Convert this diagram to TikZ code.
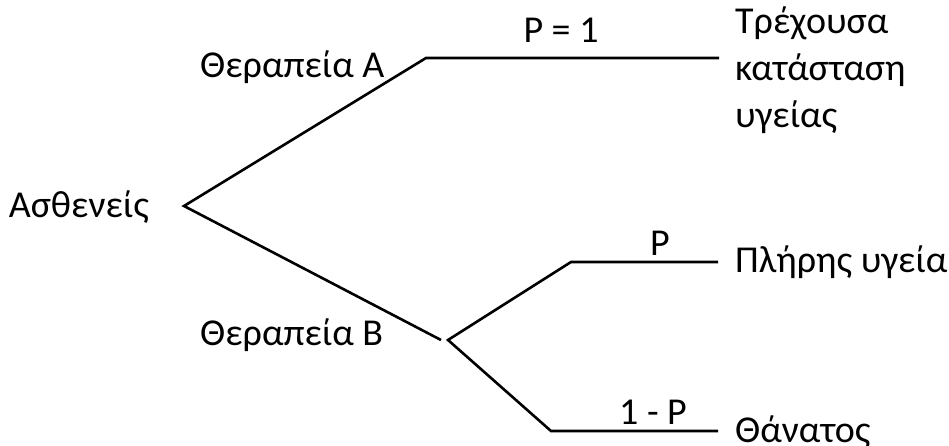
\documentclass[tikz,border=0pt]{standalone}
\usepackage{fontspec}
\setmainfont{Carlito}
\begin{document}
\begin{tikzpicture}[x=1pt,y=-1pt,
  branch/.style={line width=2.6pt,line join=miter},
  lbl/.style={inner sep=0pt,font=\fontsize{38}{47}\selectfont},
  outcome/.style={lbl,anchor=west,align=left}]
\useasboundingbox (0,0) rectangle (949,446);
% tree vertices
\coordinate (root) at (184,206);
\coordinate (aknee) at (426,58);
\coordinate (aend) at (719,58);
\coordinate (bend) at (441,340);
\coordinate (bsplit) at (448,340);
\coordinate (pknee) at (571,262);
\coordinate (pend) at (718,262);
\coordinate (qknee) at (551,431);
\coordinate (qend) at (718,431);
% branches
\draw[branch] (aend) -- (aknee) -- (root) -- (bend);
\draw[branch] (pend) -- (pknee) -- (bsplit) -- (qknee) -- (qend);
% labels
\node[lbl,anchor=east] (pat) at (149,207) {Ασθενείς};
\node[lbl,anchor=west] (tha) at (200,67) {Θεραπεία A};
\node[lbl,anchor=west] (thb) at (200,335) {Θεραπεία B};
\node[lbl] (p1) at (561,30) {P = 1};
\node[lbl] (pp) at (660,243) {P};
\node[lbl] (pq) at (653,412) {1 - P};
\node[outcome,anchor=north west] (oa) at (735,7) {Τρέχουσα\\κατάσταση\\υγείας};
\node[outcome] (ob) at (735,262) {Πλήρης υγεία};
\node[outcome] (oc) at (735,432) {Θάνατος};
\end{tikzpicture}
\end{document}
